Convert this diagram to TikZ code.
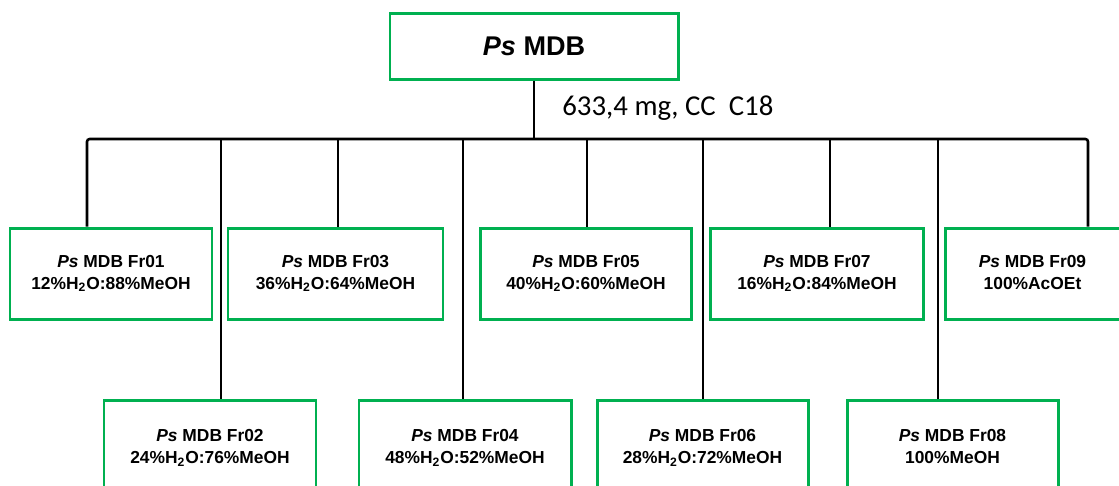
\documentclass[tikz,border=0pt]{standalone}
\usepackage{fontspec}
\setmainfont{Liberation Sans}
\newfontfamily\carlitofont{Carlito}
\definecolor{boxgreen}{RGB}{0,176,80}
\newcommand{\subph}{\vphantom{H\textsubscript{2}}}
\begin{document}
\begin{tikzpicture}[x=0.02cm,y=-0.02cm,
  gbox/.style={draw=boxgreen,line width=1.7pt,fill=white,inner sep=0pt,align=center,
     font=\fontsize{9.9}{12.5}\selectfont\bfseries},
  conn/.style={draw=black,line width=1.45pt,rounded corners=1.5pt}]
\useasboundingbox (0,0) rectangle (1119,485);
\clip (0,0) rectangle (1119,485);
% top box
\node[gbox,minimum width=288*0.02cm,minimum height=66*0.02cm,font=\fontsize{15.4}{18}\selectfont\bfseries] (top) at (534,46) {\textit{Ps} MDB};
\coordinate (bus) at (534,139);
\node[anchor=base west,font=\fontsize{16.4}{20}\selectfont\carlitofont,inner sep=0pt] (lab) at (562,115) {633,4 mg, CC\ \ C18};
% top row boxes (y 228 -- 319)
\node[gbox,minimum width=202*0.02cm,minimum height=91*0.02cm] (f1) at (111,273.5) {\textit{Ps} MDB Fr01\\12\%H\textsubscript{2}O:88\%MeOH};
\node[gbox,minimum width=215*0.02cm,minimum height=91*0.02cm] (f3) at (335.5,273.5) {\textit{Ps} MDB Fr03\\36\%H\textsubscript{2}O:64\%MeOH};
\node[gbox,minimum width=211*0.02cm,minimum height=91*0.02cm] (f5) at (586,273.5) {\textit{Ps} MDB Fr05\\40\%H\textsubscript{2}O:60\%MeOH};
\node[gbox,minimum width=213*0.02cm,minimum height=91*0.02cm] (f7) at (817,273.5) {\textit{Ps} MDB Fr07\\16\%H\textsubscript{2}O:84\%MeOH};
\node[gbox,minimum width=175*0.02cm,minimum height=91*0.02cm] (f9) at (1032.5,273.5) {\textit{Ps} MDB Fr09\\100\%AcOEt\subph};
% bottom row boxes (top 400, cut at bottom)
\node[gbox,minimum width=212*0.02cm,minimum height=96*0.02cm] (f2) at (210,448) {\textit{Ps} MDB Fr02\\24\%H\textsubscript{2}O:76\%MeOH};
\node[gbox,minimum width=212*0.02cm,minimum height=96*0.02cm] (f4) at (465,448) {\textit{Ps} MDB Fr04\\48\%H\textsubscript{2}O:52\%MeOH};
\node[gbox,minimum width=211*0.02cm,minimum height=96*0.02cm] (f6) at (702.5,448) {\textit{Ps} MDB Fr06\\28\%H\textsubscript{2}O:72\%MeOH};
\node[gbox,minimum width=211*0.02cm,minimum height=96*0.02cm] (f8) at (952.5,448) {\textit{Ps} MDB Fr08\\100\%MeOH\subph};
% connectors
\coordinate (bl) at (87,139);
\coordinate (br) at (1088,139);
\coordinate (b2) at (221,139);
\coordinate (b3) at (338,139);
\coordinate (b4) at (463,139);
\coordinate (b5) at (587,139);
\coordinate (b6) at (703,139);
\coordinate (b7) at (830,139);
\coordinate (b8) at (938,139);
\path[conn] (top.south) -- (bus);
\path[conn] (f1.north -| bl) |- (br) -- (br |- f9.north);
\path[conn] (b2) -- (f2.north -| b2);
\path[conn] (b3) -- (f3.north -| b3);
\path[conn] (b4) -- (f4.north -| b4);
\path[conn] (b5) -- (f5.north -| b5);
\path[conn] (b6) -- (f6.north -| b6);
\path[conn] (b7) -- (f7.north -| b7);
\path[conn] (b8) -- (f8.north -| b8);
\end{tikzpicture}
\end{document}
